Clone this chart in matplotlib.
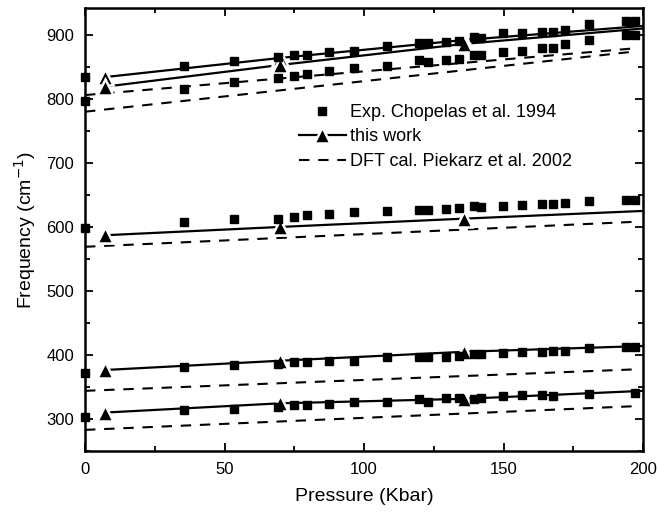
import matplotlib
matplotlib.use("Agg")
import matplotlib.pyplot as plt
import matplotlib.lines as mlines
from matplotlib.ticker import MultipleLocator

plt.rcParams['font.family'] = ['Liberation Sans', 'DejaVu Sans']

# ---------------- data ----------------
# Experimental pressures (Kbar), Chopelas et al. 1994
p_exp = [0, 35.5, 53.5, 69, 75, 79.5, 87.5, 96.5, 108.3, 119.8, 123, 129.5,
         134, 139.5, 142, 149.7, 156.8, 163.8, 167.8, 172, 180.8, 193.8, 197]
exp_top_a = [834, 851, 859, 865, 868, 869, 873, 874.5, 883, 887.5, 887.5, 889.6,
             891, 897, 895, 902.7, 903, 905, 905, 908, 917, 921, 921]
exp_top_b = [797, 815.6, 826, 832, 835.5, 839, 843, 848, 851, 860, 858, 861,
             862.5, 869, 868, 874, 875.5, 879, 879, 886, 892, 900, 900]
exp_mid = [599, 607.5, 612, 612.5, 615, 618.5, 620, 623, 625, 627, 627, 628.5,
           630, 632, 631, 632.5, 634.5, 635.5, 636.5, 638, 640, 641.5, 642]
exp_400 = [372.5, 380.8, 384.5, 385.5, 389, 388.6, 391.2, 390.7, 396.4, 397.4,
           397.4, 397.4, 398.4, 401.6, 401.6, 402.6, 405.2, 405.2, 406.2, 406.7,
           410.4, 411.9, 413]
p_exp_300 = [0, 35.5, 53.5, 69, 75, 79.5, 87.5, 96.5, 108.3, 119.8, 123, 129.5,
             134, 139.5, 142, 149.7, 156.8, 163.8, 167.8, 180.8, 197]
exp_300 = [303, 313.5, 316, 318.7, 322.3, 322.3, 323.8, 326, 326.4, 331.6, 326.4,
           332.6, 332.6, 331.6, 332.6, 335.2, 337.8, 336.8, 335.2, 338.9, 340.4]

# This work (triangles at first three pressures, line extends to 200 Kbar)
p_work = [7, 70, 136, 200]
work_top_a = [834, 864, 892, 914]
work_top_b = [819, 853, 886, 910]
work_mid = [587, 600, 613, 625]
work_400 = [376.5, 391, 405, 414]
work_300 = [310, 324.5, 331.5, 344]

# DFT calculation, Piekarz et al. 2002
p_dft = [0, 197]
dft_top_a = [806, 879]
dft_top_b = [780, 874]
dft_mid = [569, 608]
dft_400 = [344, 377.5]
dft_300 = [283, 320]

# ---------------- plot ----------------
fig = plt.figure(figsize=(6.58, 5.16), dpi=100)
ax = fig.add_axes([85 / 658, 1 - 451 / 516, 558 / 658, 443 / 516])

k = 'black'
dash = (0, (5, 4.2))
for ys in [dft_top_a, dft_top_b, dft_mid, dft_400, dft_300]:
    ax.plot(p_dft, ys, color=k, lw=1.5, ls=dash)

for ys in [work_top_a, work_top_b, work_mid, work_400, work_300]:
    ax.plot(p_work, ys, color=k, lw=1.6, zorder=3)
    ax.plot(p_work[:3], ys[:3], ls='none', marker='^', ms=12, mfc=k,
            mec='white', mew=1.8, zorder=4)

for px, ys in [(p_exp, exp_top_a), (p_exp, exp_top_b), (p_exp, exp_mid),
               (p_exp, exp_400), (p_exp_300, exp_300)]:
    ax.plot(px, ys, ls='none', marker='s', ms=5.5, color=k, zorder=5,
            clip_on=False)

# legend proxies
leg_exp = mlines.Line2D([], [], ls='none', marker='s', ms=5.5, color=k)
leg_work = mlines.Line2D([], [], color=k, lw=1.6, marker='^', ms=12, mfc=k,
                         mec='white', mew=1.8)
leg_dft = mlines.Line2D([], [], color=k, lw=1.5, ls=dash)
ax.legend([leg_exp, leg_work, leg_dft],
          ['Exp. Chopelas et al. 1994', 'this work', 'DFT cal. Piekarz et al. 2002'],
          loc='upper left', bbox_to_anchor=(0.37, 0.80), frameon=False,
          fontsize=13, handlelength=2.6, handletextpad=0.25, labelspacing=0.42,
          numpoints=1, borderaxespad=0)

ax.set_xlim(0, 200)
ax.set_ylim(250, 942)
ax.xaxis.set_major_locator(MultipleLocator(50))
ax.xaxis.set_minor_locator(MultipleLocator(25))
ax.yaxis.set_major_locator(MultipleLocator(100))
ax.yaxis.set_minor_locator(MultipleLocator(50))
ax.tick_params(which='both', direction='in', top=True, right=True, width=1.3,
               labelsize=12)
ax.tick_params(which='major', length=6, pad=8)
ax.tick_params(which='minor', length=3.5)
for s in ax.spines.values():
    s.set_linewidth(1.8)

ax.set_xlabel('Pressure (Kbar)', fontsize=14, labelpad=8)
ax.set_ylabel('Frequency (cm$^{-1}$)', fontsize=14, labelpad=6)

fig.savefig('out.png', dpi=100)
